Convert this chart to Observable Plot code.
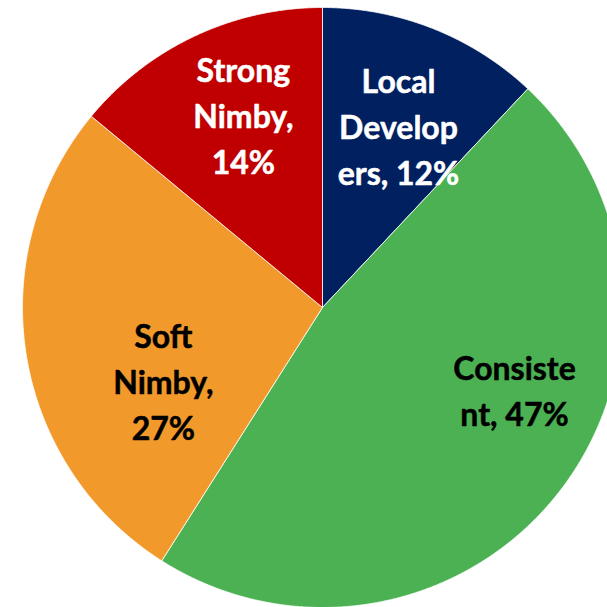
<!DOCTYPE html>
<html>
<head>
<meta charset="utf-8">
<script src="https://cdn.jsdelivr.net/npm/d3@7"></script>
<script src="https://cdn.jsdelivr.net/npm/@observablehq/plot@0.6"></script>
<style>
  html, body { margin: 0; padding: 0; background: #fff; }
  #chart svg { display: block; overflow: hidden; }
</style>
</head>
<body>
<div id="chart"></div>
<script>
// ---- data ----
const categories = ["Local Developers", "Consistent", "Soft Nimby", "Strong Nimby"];
const shares = [12, 47, 27, 14];
const labelTexts = ["Local\nDevelop\ners, 12%", "Consiste\nnt, 47%", "Soft\nNimby,\n27%", "Strong\nNimby,\n14%"];

// ---- style / layout ----
const colors = ["#002060", "#4BB153", "#F2992B", "#C00000"];
const textColors = ["#ffffff", "#000000", "#000000", "#ffffff"];
const labelRadius = [0.651, 0.698, 0.586, 0.689];
const labelAngleShift = [1.3, -14.3, -16.15, 2.7];

// ---- build slices ----
const total = d3.sum(shares);
let acc = 0;
const slices = categories.map((name, i) => {
  const start = acc / total * 360;
  acc += shares[i];
  const end = acc / total * 360;
  return {name, start, end, mid: (start + end) / 2, i};
});

const rad = Math.PI / 180;
const pts = [];
for (const s of slices) {
  pts.push({name: s.name, x: 0, y: 0});
  const n = Math.ceil((s.end - s.start) / 0.25);
  for (let k = 0; k <= n; k++) {
    const a = (s.start + (s.end - s.start) * k / n) * rad;
    pts.push({name: s.name, x: Math.sin(a), y: Math.cos(a)});
  }
  pts.push({name: s.name, x: 0, y: 0});
}

const labels = slices.map(s => {
  const a = (s.mid + labelAngleShift[s.i]) * rad;
  const r = labelRadius[s.i];
  return {name: s.name, text: labelTexts[s.i], x: r * Math.sin(a), y: r * Math.cos(a), color: textColors[s.i]};
});

const W = 607, H = 607, R = 300, cx = 322, cy = 307;

const chart = Plot.plot({
  width: W,
  height: H,
  margin: 0,
  x: {domain: [-cx / R, (W - cx) / R], axis: null},
  y: {domain: [-(H - cy) / R, cy / R], axis: null},
  color: {domain: categories, range: colors},
  marks: [
    Plot.line(pts, {x: "x", y: "y", z: "name", fill: "name", stroke: "#ffffff", strokeWidth: 0.8, curve: "linear"}),
    Plot.text(labels, {
      x: "x", y: "y", text: "text", fill: d => d.color, stroke: d => d.color, strokeWidth: 0.5,
      fontFamily: "Lato", fontWeight: "bold", fontSize: 32, dy: -3,
      lineHeight: 1.44, textAnchor: "middle", lineAnchor: "middle"
    })
  ]
});
document.getElementById("chart").appendChild(chart);
</script>
</body>
</html>
